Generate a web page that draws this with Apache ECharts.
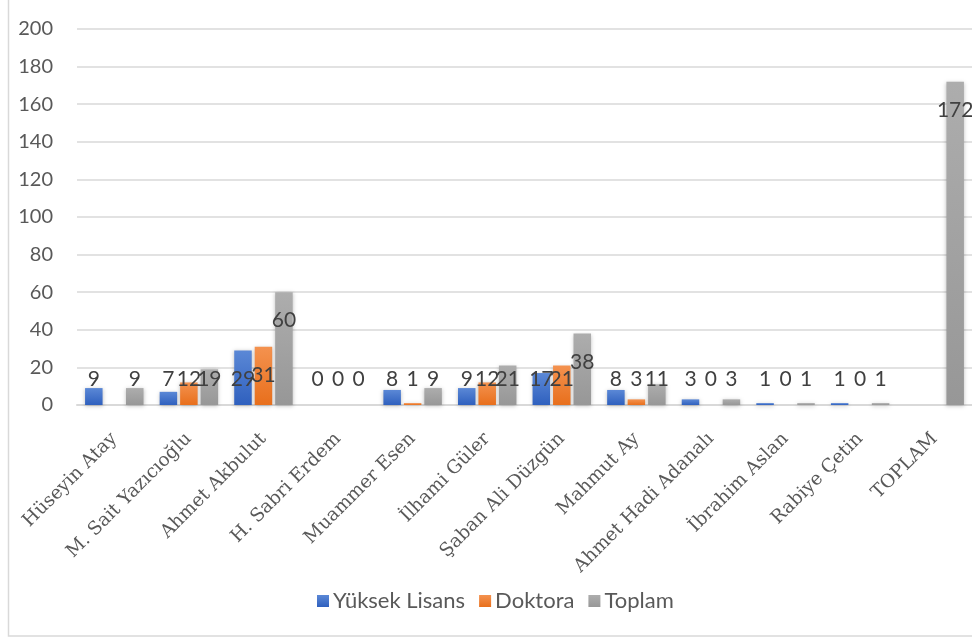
<!DOCTYPE html>
<html>
<head>
<meta charset="utf-8">
<script src="https://cdn.jsdelivr.net/npm/echarts@6/dist/echarts.min.js"></script>
<style>
  html, body { margin: 0; padding: 0; background: #fff; }
  #chart { width: 972px; height: 639px; }
</style>
</head>
<body>
<div id="chart"></div>
<script>
const categories = ['Hüseyin Atay', 'M. Sait Yazıcıoğlu', 'Ahmet Akbulut', 'H. Sabri Erdem', 'Muammer Esen', 'İlhami Güler', 'Şaban Ali Düzgün', 'Mahmut Ay', 'Ahmet Hadi Adanalı', 'İbrahim Aslan', 'Rabiye Çetin', 'TOPLAM'];
const yuksekLisans = [9, 7, 29, 0, 8, 9, 17, 8, 3, 1, 1, null];
const doktora = [null, 12, 31, 0, 1, 12, 21, 3, 0, 0, 0, null];
const toplam = [9, 19, 60, 0, 9, 21, 38, 11, 3, 1, 1, 172];
const seriesNames = ['Yüksek Lisans', 'Doktora', 'Toplam'];
const yTicks = { min: 0, max: 200, interval: 20 };

const colors = [
  ['#5B88D6', '#2F60BE'],
  ['#F4924F', '#E86F1C'],
  ['#ADADAD', '#979797']
];

function grad(c) {
  return new echarts.graphic.LinearGradient(0, 0, 0, 1, [
    { offset: 0, color: c[0] }, { offset: 1, color: c[1] }
  ]);
}

function buildData(values) {
  return values.map(v => {
    if (v === null) return { value: null, label: { show: false } };
    const tall = v >= 28;
    return {
      value: v,
      label: tall
        ? { position: 'insideTop', distance: 18 }
        : { position: 'insideBottom', distance: 15 }
    };
  });
}

const labelFont = { fontFamily: 'Lato, "Open Sans", sans-serif', fontSize: 21, color: '#404040' };

const chart = echarts.init(document.getElementById('chart'), null, { renderer: 'canvas' });
const allValues = [yuksekLisans, doktora, toplam];
chart.setOption({
  animation: false,
  color: colors.map(c => c[0]),
  graphic: [{
    type: 'rect',
    shape: { x: 8.5, y: -10, width: 1000, height: 646 },
    style: { fill: 'none', stroke: '#D9D9D9', lineWidth: 1.5 },
    silent: true,
    z: -1
  }],
  grid: { left: 77, right: -5, top: 29, bottom: 234, containLabel: false },
  legend: {
    data: seriesNames.map((n, i) => ({ name: n, itemStyle: { color: grad(colors[i]) } })),
    bottom: 22,
    left: 312,
    itemWidth: 12,
    itemHeight: 12,
    itemGap: 14,
    icon: 'rect',
    textStyle: { fontFamily: 'Lato, "Open Sans", sans-serif', fontSize: 22, color: '#595959', padding: [0, 0, 0, -1] }
  },
  xAxis: {
    type: 'category',
    data: categories,
    axisLine: { lineStyle: { color: '#D9D9D9', width: 2 } },
    axisTick: { show: false },
    axisLabel: {
      rotate: 45,
      interval: 0,
      margin: 31,
      fontFamily: '"DejaVu Serif", serif',
      fontSize: 18.5,
      color: '#595959'
    }
  },
  yAxis: {
    type: 'value',
    min: yTicks.min,
    max: yTicks.max,
    interval: yTicks.interval,
    axisLine: { show: false },
    axisTick: { show: false },
    splitLine: { lineStyle: { color: '#D9D9D9', width: 1.5 } },
    axisLabel: {
      margin: 24,
      fontFamily: 'Lato, "Open Sans", sans-serif',
      fontSize: 20,
      color: '#595959'
    }
  },
  series: allValues.map((vals, i) => ({
    name: seriesNames[i],
    type: 'bar',
    barWidth: 17.5,
    barGap: '17%',
    data: buildData(vals),
    itemStyle: {
      color: grad(colors[i]),
      shadowBlur: 4,
      shadowColor: 'rgba(0,0,0,0.25)',
      shadowOffsetY: 1
    },
    label: Object.assign({ show: true }, labelFont),
    labelLayout: { hideOverlap: false }
  }))
});
</script>
</body>
</html>
